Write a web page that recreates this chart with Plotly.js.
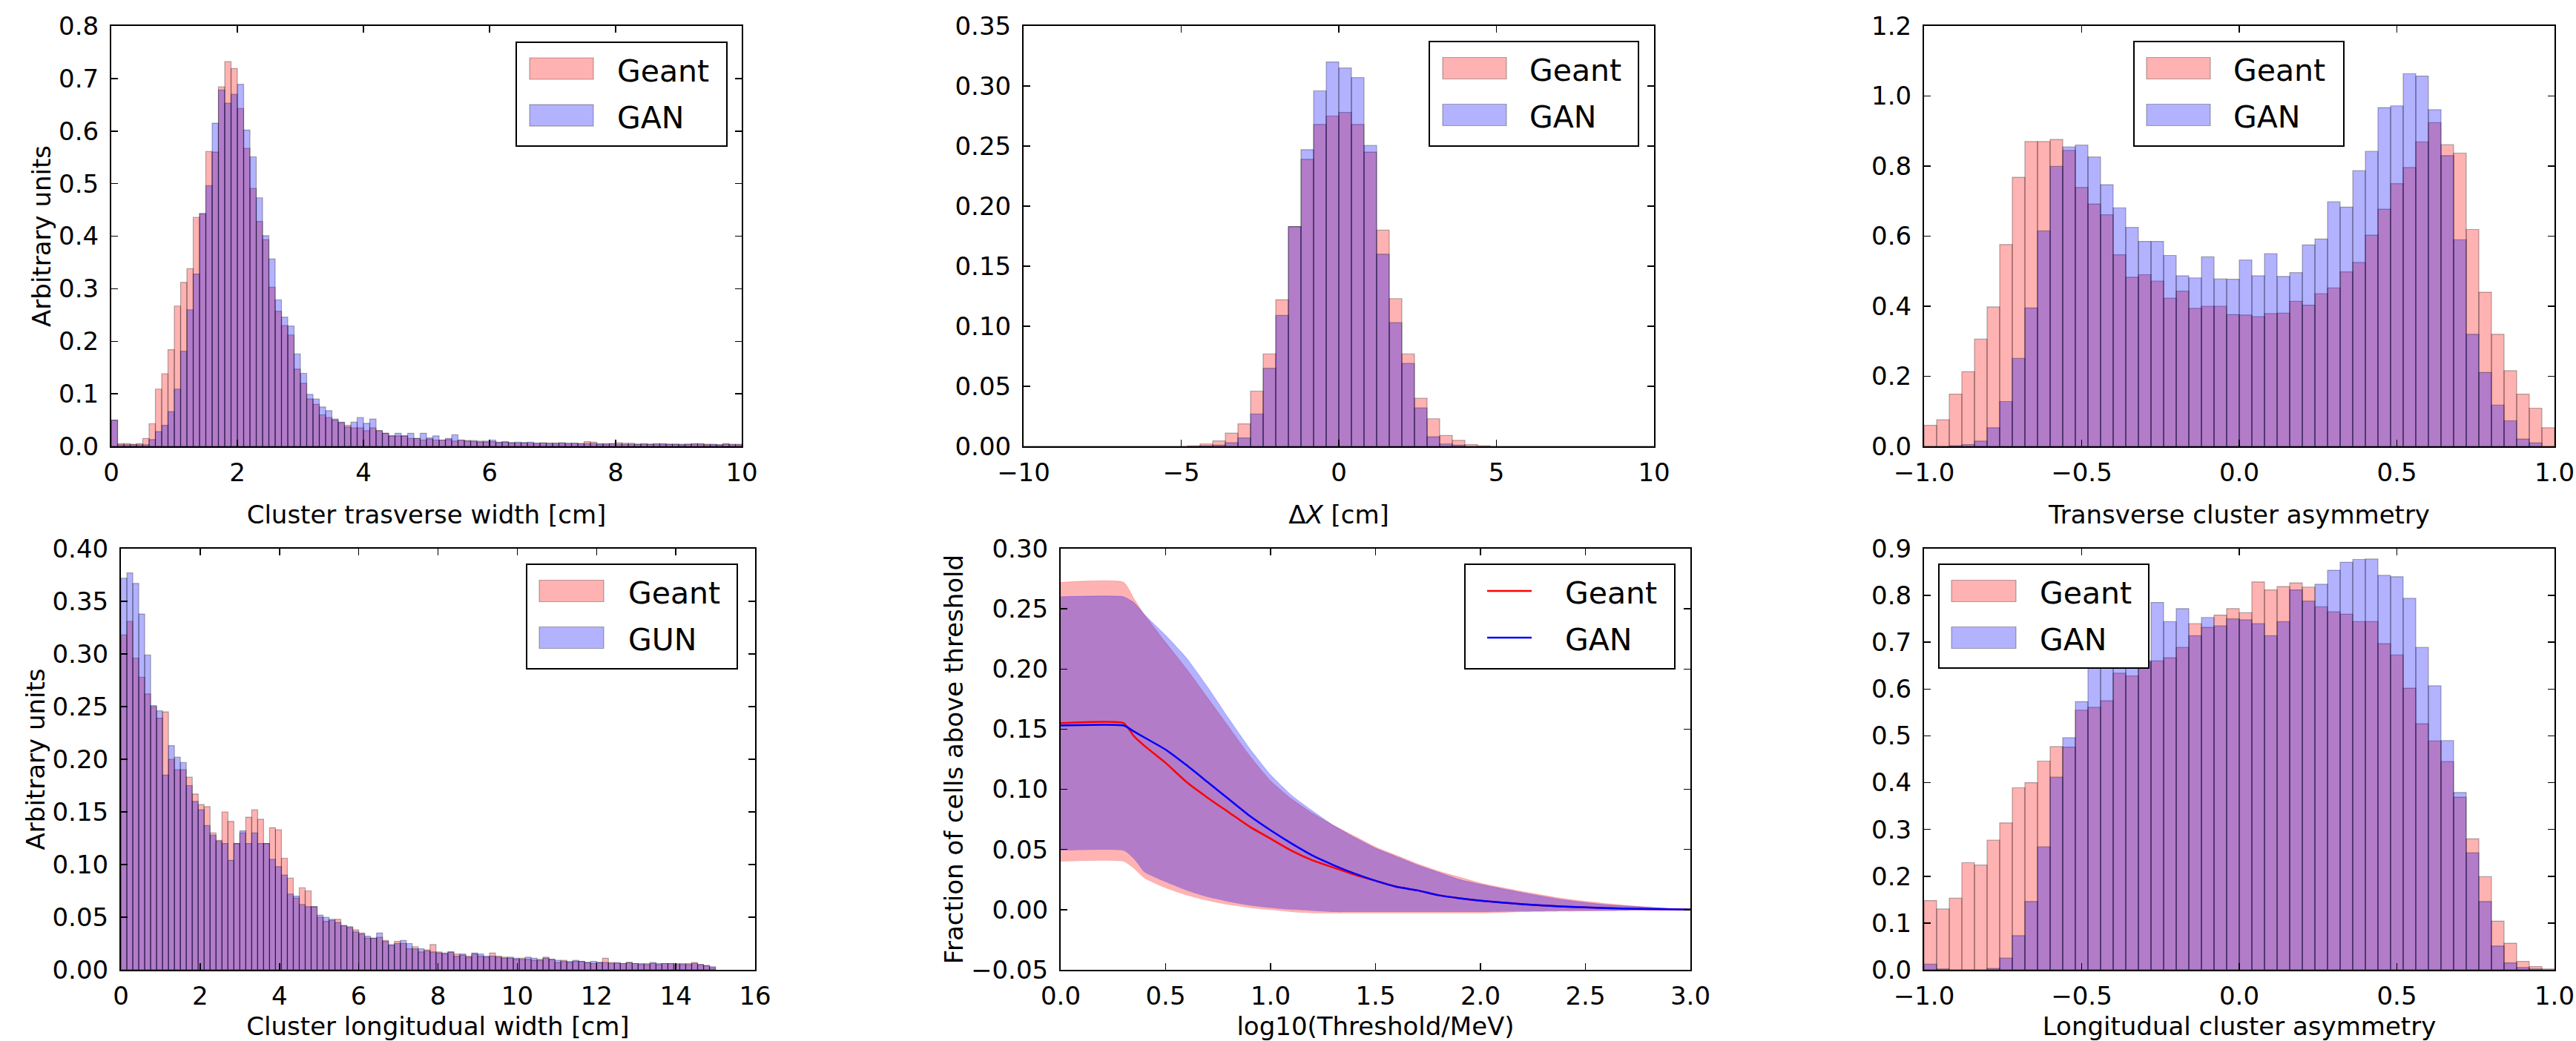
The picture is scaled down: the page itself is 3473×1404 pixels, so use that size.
<!DOCTYPE html>
<html><head><meta charset="utf-8">
<script src="https://cdn.plot.ly/plotly-3.0.1.min.js"></script>
<style>html,body{margin:0;padding:0;background:#fff;}#chart{width:3473px;height:1404px;}</style>
</head><body><div id="chart"></div>
<script>
// ---------- DATA ----------
// Top-left: cluster transverse width, 100 bins over [0,10]
const twRange = [0, 10];
const twGeant = [0.05,0.005,0.005,0.004,0.005,0.015,0.043,0.109,0.138,0.184,
 0.267,0.312,0.338,0.436,0.443,0.561,0.56,0.684,0.732,0.719,
 0.643,0.567,0.491,0.428,0.393,0.303,0.257,0.23,0.212,0.147,
 0.12,0.09,0.08,0.06,0.055,0.05,0.045,0.04,0.035,0.035,
 0.03,0.035,0.03,0.025,0.02,0.02,0.02,0.015,0.015,0.012,
 0.014,0.012,0.012,0.013,0.01,0.012,0.011,0.009,0.01,0.008,
 0.009,0.007,0.008,0.007,0.006,0.007,0.006,0.006,0.007,0.006,
 0.006,0.006,0.005,0.006,0.005,0.009,0.008,0.004,0.005,0.005,
 0.007,0.006,0.006,0.004,0.005,0.004,0.005,0.004,0.004,0.004,
 0.003,0.004,0.005,0.005,0.004,0.003,0.003,0.005,0.004,0.004];
const twGAN = [0.05,0.003,0.003,0.003,0.003,0.003,0.013,0.028,0.04,0.066,
 0.109,0.181,0.26,0.328,0.443,0.496,0.615,0.678,0.653,0.67,
 0.689,0.602,0.551,0.473,0.401,0.357,0.279,0.246,0.229,0.176,
 0.139,0.099,0.09,0.075,0.068,0.052,0.046,0.037,0.046,0.055,
 0.044,0.052,0.03,0.025,0.02,0.025,0.02,0.025,0.015,0.025,
 0.016,0.02,0.012,0.015,0.022,0.012,0.01,0.011,0.008,0.01,
 0.012,0.008,0.009,0.007,0.008,0.007,0.008,0.006,0.006,0.006,
 0.006,0.007,0.006,0.006,0.005,0.005,0.005,0.005,0.004,0.005,
 0.004,0.004,0.004,0.004,0.004,0.004,0.004,0.005,0.004,0.004,
 0.004,0.004,0.004,0.004,0.003,0.004,0.003,0.004,0.003,0.003];

// Top-middle: Delta X, 50 bins over [-10,10]
const dxRange = [-10, 10];
const dxGeant = [0,0,0,0,0,0,0,0,0,0,0,0,0,0.0005,0.002,0.0045,0.011,0.0187,0.046,0.077,
 0.122,0.183,0.239,0.268,0.275,0.278,0.268,0.245,0.18,0.123,
 0.077,0.04,0.023,0.009,0.005,0.0015,0.0005,0,0,0,0,0,0,0,0,0,0,0,0,0];
const dxGAN = [0,0,0,0,0,0,0,0,0,0,0,0,0,0,0.0005,0.001,0.003,0.007,0.027,0.065,
 0.109,0.183,0.247,0.296,0.32,0.315,0.307,0.2505,0.16,0.103,
 0.069,0.032,0.008,0.002,0.001,0,0,0,0,0,0,0,0,0,0,0,0,0,0,0];

// Top-right: transverse cluster asymmetry, 50 bins over [-1,1]
const taRange = [-1, 1];
const taGeant = [0.06,0.076,0.149,0.213,0.306,0.398,0.576,0.768,0.87,0.87,
 0.876,0.845,0.739,0.692,0.661,0.547,0.483,0.49,0.472,0.423,
 0.443,0.394,0.40,0.40,0.376,0.375,0.37,0.379,0.38,0.414,
 0.403,0.436,0.452,0.498,0.525,0.603,0.677,0.75,0.796,0.869,
 0.924,0.861,0.837,0.619,0.44,0.32,0.216,0.149,0.109,0.053];
const taGAN = [0,0,0.002,0.005,0.015,0.053,0.128,0.251,0.395,0.615,
 0.799,0.855,0.86,0.826,0.747,0.681,0.625,0.585,0.585,0.545,
 0.487,0.481,0.541,0.478,0.477,0.532,0.487,0.55,0.485,0.496,
 0.575,0.592,0.698,0.683,0.787,0.842,0.967,0.972,1.064,1.057,
 0.961,0.83,0.59,0.32,0.211,0.118,0.073,0.021,0.01,0];

// Bottom-left: cluster longitudinal width, 100 bins over [0,15]
const lwRange = [0, 15];
const lwGeant = [0.318,0.331,0.296,0.278,0.262,0.25,0.239,0.245,0.20,0.19,
 0.19,0.183,0.167,0.157,0.155,0.13,0.123,0.15,0.141,0.12,
 0.13,0.145,0.152,0.143,0.12,0.135,0.133,0.106,0.087,0.068,
 0.078,0.075,0.06,0.05,0.046,0.047,0.048,0.042,0.04,0.038,
 0.035,0.03,0.03,0.031,0.028,0.023,0.027,0.025,0.02,0.022,
 0.017,0.019,0.024,0.017,0.015,0.017,0.015,0.014,0.013,0.015,
 0.013,0.012,0.016,0.013,0.012,0.011,0.01,0.011,0.01,0.009,
 0.01,0.012,0.01,0.007,0.009,0.007,0.008,0.008,0.007,0.006,
 0.007,0.011,0.007,0.006,0.006,0.007,0.006,0.005,0.006,0.006,
 0.005,0.006,0.006,0.006,0.005,0.006,0.007,0.005,0.004,0.002];
const lwGUN = [0.372,0.377,0.367,0.338,0.299,0.251,0.246,0.185,0.213,0.202,
 0.197,0.175,0.16,0.152,0.137,0.128,0.122,0.12,0.104,0.12,
 0.132,0.12,0.13,0.12,0.12,0.105,0.098,0.09,0.072,0.07,
 0.062,0.06,0.06,0.052,0.05,0.048,0.045,0.042,0.041,0.036,
 0.034,0.032,0.03,0.035,0.027,0.024,0.025,0.028,0.025,0.02,
 0.02,0.018,0.017,0.016,0.016,0.017,0.013,0.015,0.012,0.016,
 0.015,0.013,0.013,0.012,0.011,0.012,0.011,0.01,0.012,0.011,
 0.009,0.011,0.01,0.009,0.008,0.008,0.009,0.008,0.007,0.008,
 0.007,0.007,0.006,0.007,0.006,0.007,0.006,0.006,0.005,0.007,
 0.006,0.006,0.006,0.005,0.006,0.005,0.006,0.005,0.004,0.003];

// Bottom-middle: fraction of cells above threshold
const thr = [0,0.3,0.35,0.4,0.5,0.6,0.7,0.8,0.9,1.0,1.1,1.2,1.3,1.4,1.5,1.6,1.7,1.8,1.9,2.0,2.2,2.4,2.6,2.8,3.0];
const geantMean = [0.155,0.155,0.144,0.136,0.122,0.106,0.093,0.081,0.069,0.059,0.049,0.041,0.035,0.029,0.024,0.019,0.016,0.012,0.0095,0.0075,0.0045,0.0025,0.0013,0.0005,0];
const geantHigh = [0.272,0.272,0.258,0.245,0.222,0.2,0.176,0.152,0.128,0.107,0.092,0.08,0.07,0.061,0.052,0.045,0.038,0.032,0.027,0.022,0.015,0.009,0.005,0.002,0];
const geantLow  = [0.04,0.04,0.034,0.026,0.018,0.012,0.0075,0.004,0.0015,-0.0003,-0.002,-0.003,-0.003,-0.003,-0.003,-0.003,-0.003,-0.003,-0.003,-0.003,-0.002,-0.0015,-0.001,-0.0005,0];
const ganMean = [0.153,0.153,0.148,0.143,0.133,0.12,0.106,0.092,0.078,0.066,0.055,0.045,0.037,0.03,0.024,0.019,0.016,0.012,0.0095,0.0075,0.0045,0.0025,0.0013,0.0005,0];
const ganHigh = [0.26,0.26,0.255,0.245,0.228,0.209,0.185,0.159,0.134,0.112,0.095,0.082,0.07,0.06,0.051,0.044,0.037,0.031,0.025,0.021,0.014,0.008,0.004,0.002,0];
const ganLow  = [0.049,0.049,0.042,0.031,0.023,0.016,0.0105,0.0065,0.0035,0.0015,0,-0.001,-0.002,-0.002,-0.002,-0.002,-0.002,-0.002,-0.002,-0.002,-0.0015,-0.001,-0.001,-0.0005,0];

// Bottom-right: longitudinal cluster asymmetry, 50 bins over [-1,1]
const laRange = [-1, 1];
const laGeant = [0.148,0.13,0.153,0.229,0.224,0.277,0.314,0.389,0.40,0.446,
 0.477,0.476,0.555,0.561,0.575,0.634,0.628,0.657,0.66,0.667,
 0.689,0.74,0.732,0.758,0.772,0.763,0.829,0.812,0.819,0.827,
 0.818,0.776,0.765,0.76,0.744,0.744,0.697,0.673,0.602,0.526,
 0.489,0.445,0.369,0.28,0.199,0.104,0.057,0.018,0.007,0.002];
const laGAN = [0.012,0.002,0,0,0,0.003,0.025,0.073,0.146,0.263,
 0.412,0.496,0.573,0.66,0.66,0.655,0.655,0.66,0.785,0.744,
 0.772,0.714,0.753,0.735,0.75,0.748,0.74,0.714,0.744,0.812,
 0.788,0.824,0.854,0.871,0.877,0.878,0.843,0.84,0.794,0.689,
 0.607,0.49,0.379,0.25,0.146,0.051,0.015,0.005,0.002,0];

const labelGeant = 'Geant', labelGAN = 'GAN', labelGUN = 'GUN';

// ---------- HELPERS ----------
const W = 3473, H = 1404;
const FONT = 'DejaVu Sans, Verdana, sans-serif';
const RED_FILL = 'rgba(255,0,0,0.3)', BLUE_FILL = 'rgba(0,0,255,0.3)';
const EDGE = 'rgba(0,0,0,0.3)';
function px(x){ return x / W; }
function py(y){ return 1 - y / H; }
function binCenters(range, n){
  const w = (range[1]-range[0])/n; const c = [];
  for (let i=0;i<n;i++) c.push(range[0] + w*(i+0.5));
  return c;
}
function hist(range, vals, color, name, ax){
  const n = vals.length;
  return {type:'bar', x: binCenters(range, n), y: vals, width: (range[1]-range[0])/n,
    name: name, showlegend:false, xaxis:'x'+ax, yaxis:'y'+ax,
    marker:{color: color, line:{color: EDGE, width: 1.2}}, hoverinfo:'skip'};
}
const SPL = {shape:'spline', smoothing:0.5};

const traces = [
  hist(twRange, twGeant, RED_FILL, labelGeant, ''),
  hist(twRange, twGAN, BLUE_FILL, labelGAN, ''),
  hist(dxRange, dxGeant, RED_FILL, labelGeant, '2'),
  hist(dxRange, dxGAN, BLUE_FILL, labelGAN, '2'),
  hist(taRange, taGeant, RED_FILL, labelGeant, '3'),
  hist(taRange, taGAN, BLUE_FILL, labelGAN, '3'),
  hist(lwRange, lwGeant, RED_FILL, labelGeant, '4'),
  hist(lwRange, lwGUN, BLUE_FILL, labelGUN, '4'),
  {type:'scatter', x: thr, y: geantLow, mode:'lines', line:Object.assign({width:0}, SPL), xaxis:'x5', yaxis:'y5', showlegend:false, hoverinfo:'skip'},
  {type:'scatter', x: thr, y: geantHigh, mode:'lines', line:Object.assign({width:0.8, color:'rgba(255,0,0,0.3)'}, SPL), fill:'tonexty', fillcolor: RED_FILL, xaxis:'x5', yaxis:'y5', showlegend:false, hoverinfo:'skip'},
  {type:'scatter', x: thr, y: ganLow, mode:'lines', line:Object.assign({width:0}, SPL), xaxis:'x5', yaxis:'y5', showlegend:false, hoverinfo:'skip'},
  {type:'scatter', x: thr, y: ganHigh, mode:'lines', line:Object.assign({width:0.8, color:'rgba(0,0,255,0.3)'}, SPL), fill:'tonexty', fillcolor: BLUE_FILL, xaxis:'x5', yaxis:'y5', showlegend:false, hoverinfo:'skip'},
  {type:'scatter', x: thr, y: geantMean, mode:'lines', name: labelGeant, line:Object.assign({width:2.5, color:'#ff0000'}, SPL), xaxis:'x5', yaxis:'y5', showlegend:false},
  {type:'scatter', x: thr, y: ganMean, mode:'lines', name: labelGAN, line:Object.assign({width:2.5, color:'#0000ff'}, SPL), xaxis:'x5', yaxis:'y5', showlegend:false},
  hist(laRange, laGeant, RED_FILL, labelGeant, '6'),
  hist(laRange, laGAN, BLUE_FILL, labelGAN, '6'),
];

const TICKFONT = {family: FONT, size: 34, color:'#000'};
function xax(x0, x1, range, dtick, fmt, anchor, title){
  return {domain:[px(x0), px(x1)], range: range, dtick: dtick, tick0: range[0], tickformat: fmt,
    anchor: anchor, showgrid:false, zeroline:false, showline:true, linecolor:'#000', linewidth:2,
    mirror:'ticks', ticks:'inside', ticklen:9, tickwidth:1.5, tickcolor:'#000', tickfont: TICKFONT,
    ticklabelstandoff: 4,
    title: title ? {text: title, font:{family: FONT, size: 34, color:'#000'}, standoff: 26} : undefined};
}
function yax(y0, y1, range, dtick, fmt, anchor, title){
  return {domain:[py(y1), py(y0)], range: range, dtick: dtick, tick0: 0, tickformat: fmt,
    anchor: anchor, showgrid:false, zeroline:false, showline:true, linecolor:'#000', linewidth:2,
    mirror:'ticks', ticks:'inside', ticklen:9, tickwidth:1.5, tickcolor:'#000', tickfont: TICKFONT,
    ticklabelstandoff: 8,
    title: title ? {text: title, font:{family: FONT, size: 34, color:'#000'}, standoff: 0} : undefined};
}

const layout = {
  width: W, height: H, margin:{l:0, r:0, t:0, b:0}, paper_bgcolor:'#fff', plot_bgcolor:'#fff',
  barmode:'overlay', showlegend:false, font:{family: FONT, color:'#000'},
  xaxis:  xax(150, 1000, [0,10], 2, 'd', 'y', 'Cluster trasverse width [cm]'),
  yaxis:  yax(35, 602, [0,0.8], 0.1, '.1f', 'x', 'Arbitrary units'),
  xaxis2: xax(1380, 2230, [-10,10], 5, 'd', 'y2', 'Δ<i>X</i> [cm]'),
  yaxis2: yax(35, 602, [0,0.35], 0.05, '.2f', 'x2', null),
  xaxis3: xax(2594, 3444, [-1,1], 0.5, '.1f', 'y3', 'Transverse cluster asymmetry'),
  yaxis3: yax(35, 602, [0,1.2], 0.2, '.1f', 'x3', null),
  xaxis4: xax(163, 1018, [0,16], 2, 'd', 'y4', 'Cluster longitudual width [cm]'),
  yaxis4: yax(740, 1308, [0,0.40], 0.05, '.2f', 'x4', 'Arbitrary units'),
  xaxis5: xax(1430, 2279, [0,3], 0.5, '.1f', 'y5', 'log10(Threshold/MeV)'),
  yaxis5: yax(740, 1308, [-0.05,0.30], 0.05, '.2f', 'x5', 'Fraction of cells above threshold'),
  xaxis6: xax(2594, 3444, [-1,1], 0.5, '.1f', 'y6', 'Longitudual cluster asymmetry'),
  yaxis6: yax(740, 1308, [0,0.9], 0.1, '.1f', 'x6', null),
  shapes: [], annotations: []
};
layout.yaxis5.tick0 = -0.05;

// ---------- LEGENDS (drawn boxes) ----------
const LEGFONT = {family: FONT, size: 41, color:'#000'};
function legend(box, swX, textX, rows, entries, kind){
  layout.shapes.push({type:'rect', xref:'paper', yref:'paper', x0:px(box[0]), x1:px(box[1]), y0:py(box[3]), y1:py(box[2]),
    line:{color:'#000', width:2}, fillcolor:'#fff', layer:'above'});
  entries.forEach((e, i) => {
    const yc = rows[i];
    if (kind === 'patch') {
      layout.shapes.push({type:'rect', xref:'paper', yref:'paper', x0:px(swX[0]), x1:px(swX[1]), y0:py(yc+14.5), y1:py(yc-14.5),
        line:{color: EDGE, width:1.2}, fillcolor: e.color, layer:'above'});
    } else {
      layout.shapes.push({type:'line', xref:'paper', yref:'paper', x0:px(swX[0]), x1:px(swX[1]), y0:py(yc), y1:py(yc),
        line:{color: e.color, width:2.5}, layer:'above'});
    }
    layout.annotations.push({xref:'paper', yref:'paper', x:px(textX), y:py(yc+3), text:e.text, showarrow:false,
      xanchor:'left', yanchor:'middle', font: LEGFONT});
  });
}
const pair = [{text:labelGeant, color:RED_FILL},{text:labelGAN, color:BLUE_FILL}];
legend([696,980,57,197], [714,800], 830, [92.5,155.6], pair, 'patch');
legend([1927,2209,56,197], [1945,2031], 2060, [92,155], pair, 'patch');
legend([2877,3160,56,197], [2894,2980], 3009, [92,155], pair, 'patch');
legend([710,994,761,902], [727,814], 845, [797,860], [{text:labelGeant, color:RED_FILL},{text:labelGUN, color:BLUE_FILL}], 'patch');
legend([1975,2258,761,902], [2005,2065], 2108, [797,860], [{text:labelGeant, color:'#ff0000'},{text:labelGAN, color:'#0000ff'}], 'line');
legend([2614,2897,761,901], [2631,2718], 2748, [797,860], pair, 'patch');

Plotly.newPlot('chart', traces, layout, {displayModeBar:false, staticPlot:true});
</script></body></html>
